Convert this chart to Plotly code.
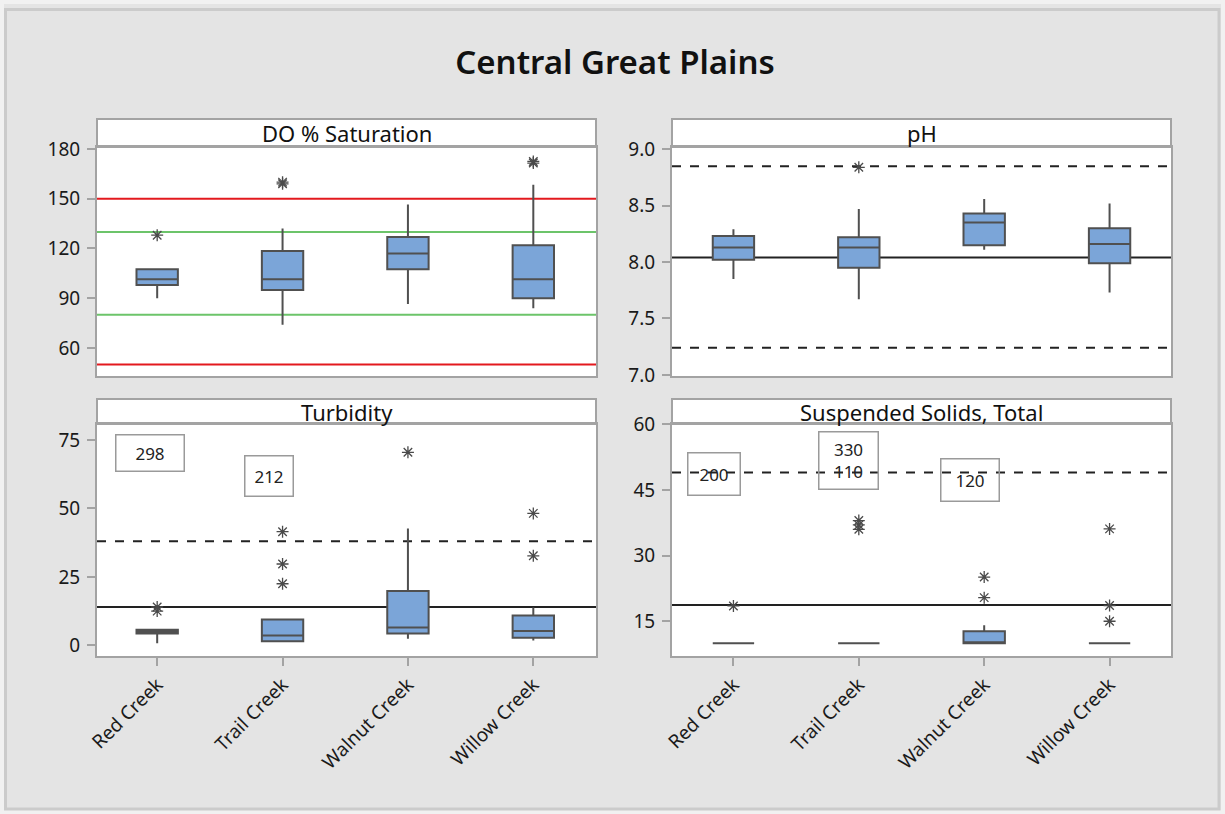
import plotly.graph_objects as go

# ---- data -------------------------------------------------------------
creeks = ["Red Creek", "Trail Creek", "Walnut Creek", "Willow Creek"]

# DO % Saturation
do_low = [90, 74, 86.5, 84]
do_q1 = [98, 95, 107.5, 90]
do_med = [101.5, 101.5, 117, 101.5]
do_q3 = [107.5, 118.5, 127, 122]
do_high = [107.5, 132, 146.5, 158.5]
do_out = {"Red Creek": [128], "Trail Creek": [159, 160], "Walnut Creek": [], "Willow Creek": [171.5, 172.5]}
do_limits_red = [50, 150]
do_limits_green = [80, 130]

# pH
ph_low = [7.85, 7.67, 8.11, 7.73]
ph_q1 = [8.02, 7.95, 8.15, 7.99]
ph_med = [8.13, 8.13, 8.35, 8.16]
ph_q3 = [8.23, 8.22, 8.43, 8.30]
ph_high = [8.29, 8.47, 8.56, 8.52]
ph_out = {"Red Creek": [], "Trail Creek": [8.84], "Walnut Creek": [], "Willow Creek": []}
ph_center = 8.04
ph_bounds = [7.24, 8.85]

# Turbidity
tu_low = [0.8, 1.2, 2.4, 1.8]
tu_q1 = [4.3, 1.5, 4.3, 2.8]
tu_med = [5.0, 3.6, 6.5, 5.2]
tu_q3 = [5.7, 9.4, 19.8, 10.9]
tu_high = [5.7, 9.4, 42.7, 13.8]
tu_out = {"Red Creek": [12.5, 14], "Trail Creek": [22.5, 29.7, 41.5], "Walnut Creek": [70.5], "Willow Creek": [32.7, 48.2]}
tu_center = 14
tu_bound = 38
tu_offscale = {"Red Creek": "298", "Trail Creek": "212"}

# Suspended Solids, Total
ss_low = [10, 10, 10, 10]
ss_q1 = [10, 10, 10, 10]
ss_med = [10, 10, 10, 10]
ss_q3 = [10, 10, 12.7, 10]
ss_high = [10, 10, 14.1, 10]
ss_out = {"Red Creek": [18.5], "Trail Creek": [36, 37, 38], "Walnut Creek": [20.4, 25.1], "Willow Creek": [15, 18.6, 36.1]}
ss_center = 18.7
ss_bound = 49
ss_offscale = {"Red Creek": "200", "Trail Creek": "330<br>110", "Walnut Creek": "120"}

panel_titles = ["DO % Saturation", "pH", "Turbidity", "Suspended Solids, Total"]

# ---- styling ------------------------------------------------------------
W, H = 1225, 814
FONT = "Noto Sans"
BOX_FILL = "#7ba5d8"
BOX_LINE = "#505050"
FRAME = "#a3a3a3"
OUT_COLOR = "#4a4a4a"


def px_x(p):
    return p / W


def px_y(p):
    return 1 - p / H


# panel pixel boxes: (left, right, strip_top, data_top, data_bottom)
panels = [
    (97, 596, 119, 147, 376),
    (672, 1171, 119, 147, 376),
    (97, 596, 399, 424, 656),
    (672, 1171, 399, 424, 656),
]
y_ranges = [[43.1, 181.2], [6.99, 9.02], [-3.9, 80.85], [7.07, 60.05]]
y_ticks = [[60, 90, 120, 150, 180], [7.0, 7.5, 8.0, 8.5, 9.0], [0, 25, 50, 75], [15, 30, 45, 60]]
x_ranges = [[-0.48, 3.5], [-0.49, 3.49], [-0.48, 3.5], [-0.49, 3.49]]

fig = go.Figure()

box_sets = [
    (do_low, do_q1, do_med, do_q3, do_high, do_out),
    (ph_low, ph_q1, ph_med, ph_q3, ph_high, ph_out),
    (tu_low, tu_q1, tu_med, tu_q3, tu_high, tu_out),
    (ss_low, ss_q1, ss_med, ss_q3, ss_high, ss_out),
]

for i, (lo, q1, med, q3, hi, outs) in enumerate(box_sets):
    ax = "" if i == 0 else str(i + 1)
    fig.add_trace(go.Box(
        x=creeks, q1=q1, median=med, q3=q3, lowerfence=lo, upperfence=hi,
        xaxis="x" + ax, yaxis="y" + ax,
        fillcolor=BOX_FILL, line=dict(color=BOX_LINE, width=2),
        whiskerwidth=0, width=0.33, boxpoints=False, showlegend=False,
    ))
    ox, oy = [], []
    for c in creeks:
        for v in outs[c]:
            ox.append(c)
            oy.append(v)
    if ox:
        fig.add_trace(go.Scatter(
            x=ox, y=oy, mode="markers", xaxis="x" + ax, yaxis="y" + ax,
            marker=dict(symbol="asterisk-open", size=10, color=OUT_COLOR,
                        line=dict(width=1.3, color=OUT_COLOR)),
            showlegend=False,
        ))

layout = dict(
    width=W, height=H,
    margin=dict(l=0, r=0, t=0, b=0),
    paper_bgcolor="#e4e4e4",
    plot_bgcolor="white",
    font=dict(family=FONT, color="#1a1a1a"),
    showlegend=False,
    title=dict(text="Central Great Plains", x=615 / W, xanchor="center",
               y=px_y(62), yanchor="middle",
               font=dict(size=33, family=FONT, color="#111", weight=600)),
)

for i, (l, r, st, dt, db) in enumerate(panels):
    ax = "" if i == 0 else str(i + 1)
    bottom = i >= 2
    layout["xaxis" + ax] = dict(
        domain=[px_x(l), px_x(r)], anchor="y" + ax, type="category",
        categoryorder="array", categoryarray=creeks, range=x_ranges[i],
        showline=True, mirror=True, linecolor=FRAME, linewidth=2,
        showgrid=False, zeroline=False, automargin=False,
        ticks="outside" if bottom else "", ticklen=8, tickcolor=FRAME, tickwidth=1.5,
        showticklabels=bottom, tickangle=-45, tickfont=dict(size=19, color="#1a1a1a"),
    )
    layout["yaxis" + ax] = dict(
        domain=[px_y(db), px_y(dt)], anchor="x" + ax, range=y_ranges[i],
        tickvals=y_ticks[i], tickformat=".1f" if i == 1 else "d",
        showline=True, mirror=True, linecolor=FRAME, linewidth=2,
        showgrid=False, zeroline=False, automargin=False,
        ticks="outside", ticklen=8, tickcolor=FRAME, tickwidth=1.5,
        ticklabelstandoff=3, tickfont=dict(size=19, color="#1a1a1a"),
    )

fig.update_layout(**layout)

shapes = []
annotations = []

# outer page border
shapes.append(dict(type="rect", xref="paper", yref="paper", x0=0, x1=1, y0=0, y1=1,
                   line=dict(color="#f1f1f1", width=8), fillcolor="rgba(0,0,0,0)", layer="below"))
shapes.append(dict(type="rect", xref="paper", yref="paper",
                   x0=px_x(5.5), x1=px_x(1219), y0=px_y(809), y1=px_y(9.5),
                   line=dict(color="#cbcbcb", width=3), fillcolor="rgba(0,0,0,0)", layer="below"))

# panel strips with titles
for i, (l, r, st, dt, db) in enumerate(panels):
    shapes.append(dict(type="rect", xref="paper", yref="paper",
                       x0=px_x(l), x1=px_x(r), y0=px_y(dt), y1=px_y(st),
                       fillcolor="white", line=dict(color=FRAME, width=2), layer="below"))
    annotations.append(dict(text=panel_titles[i], xref="paper", yref="paper",
                            x=px_x((l + r) / 2), y=px_y((st + dt) / 2),
                            xanchor="center", yanchor="middle", showarrow=False,
                            font=dict(size=22, color="#111", family=FONT)))


def hline(ax, y, color, dash="solid", width=2):
    shapes.append(dict(type="line", xref="x" + ax + " domain", yref="y" + ax,
                       x0=0, x1=1, y0=y, y1=y, layer="below",
                       line=dict(color=color, width=width, dash=dash)))


for v in do_limits_red:
    hline("", v, "#e3191e")
for v in do_limits_green:
    hline("", v, "#6cc46a")
hline("2", ph_center, "#222222")
for v in ph_bounds:
    hline("2", v, "#222222", dash="dash")
hline("3", tu_center, "#222222")
hline("3", tu_bound, "#222222", dash="dash")
hline("4", ss_center, "#222222")
hline("4", ss_bound, "#222222", dash="dash")

# boxed labels for values beyond the axis range
label_spots = {
    ("3", "Red Creek"): (-7.5, 70.4, 65, 33),
    ("3", "Trail Creek"): (-13.5, 61.7, 45, 37),
    ("4", "Red Creek"): (-19.5, 48.7, 49, 39),
    ("4", "Trail Creek"): (-10, 51.8, 56, 54),
    ("4", "Walnut Creek"): (-14.5, 47.3, 55, 39),
}
for ax, labels in (("3", tu_offscale), ("4", ss_offscale)):
    for c, txt in labels.items():
        dx, yv, bw, bh = label_spots[(ax, c)]
        annotations.append(dict(text=txt, xref="x" + ax, yref="y" + ax, x=c, y=yv,
                                xshift=dx, showarrow=False, width=bw, height=bh,
                                bordercolor="#9a9a9a", borderwidth=1.5, borderpad=1,
                                font=dict(size=17, color="#222", family=FONT)))

fig.update_layout(shapes=shapes, annotations=annotations)
fig.write_html("out.html")
